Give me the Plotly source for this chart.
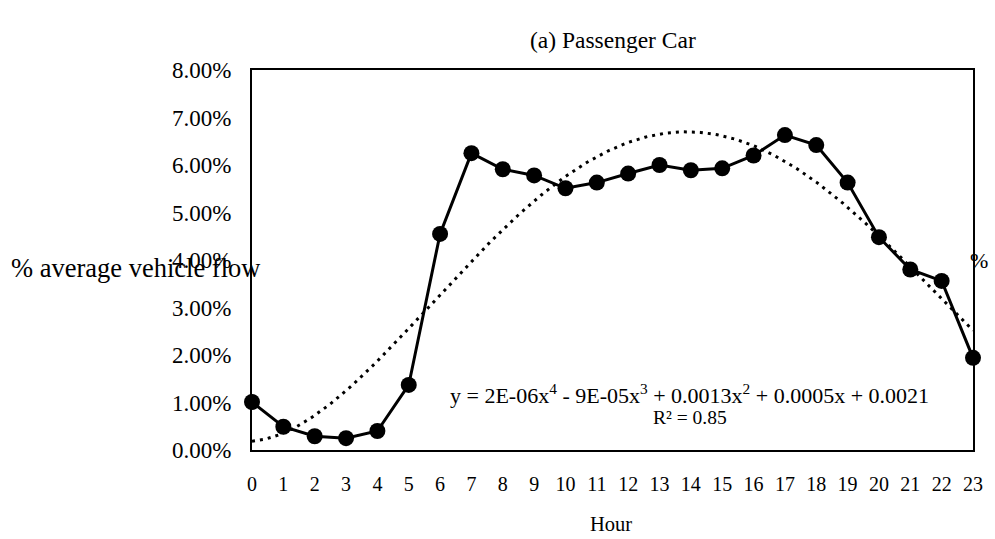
import numpy as np
import plotly.graph_objects as go

# Hourly share of average passenger-car flow (fraction of daily total)
hours = list(range(24))
flow_share = [0.0101, 0.0049, 0.0029, 0.0025, 0.0040, 0.0137, 0.0455, 0.0625,
              0.0591, 0.0578, 0.0551, 0.0563, 0.0582, 0.0600, 0.0589, 0.0593,
              0.0620, 0.0663, 0.0642, 0.0563, 0.0448, 0.0380, 0.0356, 0.0194]
y_ticks = [0.00, 0.01, 0.02, 0.03, 0.04, 0.05, 0.06, 0.07, 0.08]

FONT = "Liberation Serif, Times New Roman, serif"

# 4th-order polynomial trendline through the hourly points
coef = np.polyfit(hours, flow_share, 4)
x_fit = np.linspace(0, 23, 300)
y_fit = np.polyval(coef, x_fit)

fig = go.Figure()
fig.add_trace(go.Scatter(
    x=x_fit, y=y_fit, mode="lines",
    line=dict(color="black", width=3, dash="3px,5px"),
    hoverinfo="skip", showlegend=False,
))
fig.add_trace(go.Scatter(
    x=hours, y=flow_share, mode="lines+markers",
    line=dict(color="black", width=3),
    marker=dict(color="black", size=16),
    showlegend=False, cliponaxis=False,
))

fig.update_layout(
    width=995, height=539,
    margin=dict(l=252, r=13, t=70, b=89),
    paper_bgcolor="white", plot_bgcolor="white",
    font=dict(family=FONT, color="black"),
    xaxis=dict(
        range=[0, 23], tickmode="array", tickvals=hours,
        ticktext=[str(h) for h in hours],
        showgrid=False, zeroline=False, showline=True, mirror=True,
        linecolor="black", linewidth=2, ticks="",
        tickfont=dict(size=20, family=FONT), ticklabelstandoff=15,
    ),
    yaxis=dict(
        range=[0, 0.08], tickmode="array", tickvals=y_ticks,
        tickformat=".2%",
        showgrid=False, zeroline=False, showline=True, mirror=True,
        linecolor="black", linewidth=2, ticks="",
        tickfont=dict(size=23, family=FONT), ticklabelstandoff=14,
    ),
    annotations=[
        dict(text="(a) Passenger Car", xref="paper", yref="paper",
             x=0.5, y=1.079, xanchor="center", yanchor="middle",
             showarrow=False, font=dict(size=23.5, family=FONT)),
        dict(text="% average vehicle flow", xref="paper", yref="paper",
             x=-0.337, y=0.479, xanchor="left", yanchor="middle",
             showarrow=False, font=dict(size=26.5, family=FONT)),
        dict(text="Hour", xref="paper", yref="paper",
             x=0.4986, y=-0.195, xanchor="center", yanchor="middle",
             showarrow=False, font=dict(size=20.5, family=FONT)),
        dict(text="%", xref="paper", yref="paper",
             x=1.009, y=0.50, xanchor="center", yanchor="middle",
             showarrow=False, font=dict(size=22, family=FONT)),
        dict(text="y = 2E-06x<sup>4</sup> - 9E-05x<sup>3</sup> + 0.0013x<sup>2</sup> + 0.0005x + 0.0021",
             xref="x", yref="y", x=13.97, y=0.0118,
             xanchor="center", yanchor="middle",
             showarrow=False, font=dict(size=22, family=FONT)),
        dict(text="R² = 0.85", xref="x", yref="y", x=13.97, y=0.0069,
             xanchor="center", yanchor="middle",
             showarrow=False, font=dict(size=19.5, family=FONT)),
    ],
)

fig.write_html("out.html")
